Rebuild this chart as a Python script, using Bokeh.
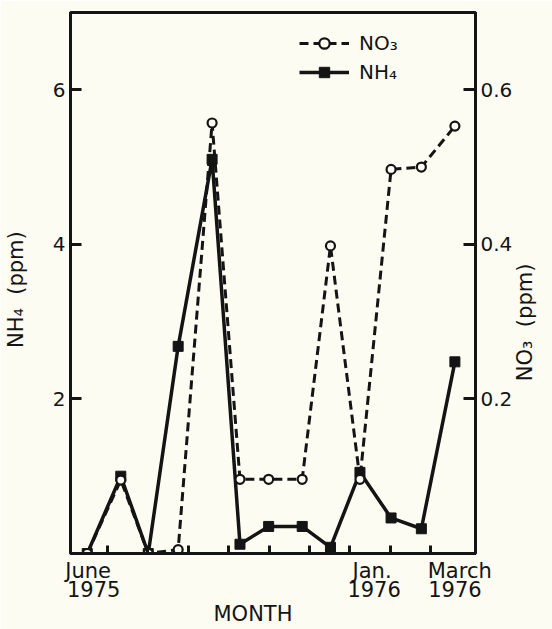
import math
from bokeh.plotting import figure
from bokeh.models import Range1d, LinearAxis, FixedTicker, Legend, LegendItem
from bokeh.embed import file_html
from bokeh.resources import INLINE

# ---- data ----
# sampling dates, in months since 1 June 1975
sample_month = [0.50, 1.33, 2.01, 2.75, 3.59, 4.28, 4.99, 5.82, 6.52, 7.25, 8.02, 8.77, 9.60]
nh4_ppm = [0.0, 1.0, 0.0, 2.68, 5.1, 0.12, 0.35, 0.35, 0.08, 1.05, 0.46, 0.32, 2.48]
no3_ppm = [0.0, 0.095, 0.0, 0.005, 0.557, 0.096, 0.096, 0.096, 0.398, 0.096, 0.497, 0.50, 0.553]

month_label_pos = [0.52, 7.55, 9.72]
month_labels = ["June", "Jan.", "March"]
year_label_pos = [0.66, 7.60, 9.60]
year_labels = ["1975", "1976", "1976"]
month_boundaries = [1, 2, 3, 4, 5, 6, 7, 8, 9]
nh4_ticks = [2, 4, 6]
no3_ticks = [0.2, 0.4, 0.6]
no3_title_start = 0.223   # where the upward-reading NO3 title begins

INK = "#141414"
BG = "#fcfcf2"
FONT = "DejaVu Sans"
NB = "\u00a0"

p = figure(width=552, height=629, x_range=Range1d(0.085, 10.11), y_range=Range1d(0, 7.0),
           output_backend="svg", toolbar_location=None,
           x_axis_location=None, y_axis_location=None,
           min_border_left=68, min_border_right=71, min_border_top=12, min_border_bottom=76)
p.extra_y_ranges = {"no3": Range1d(0, 0.7)}
p.background_fill_color = BG
p.border_fill_color = BG
p.outline_line_color = INK
p.outline_line_width = 3
p.xgrid.visible = False
p.ygrid.visible = False


def style_axis(ax, size="20px"):
    ax.axis_line_color = INK
    ax.axis_line_width = 3
    ax.major_tick_line_color = INK
    ax.major_tick_line_width = 3
    ax.minor_tick_line_color = INK
    ax.minor_tick_line_width = 3
    ax.major_label_text_font = FONT
    ax.major_label_text_font_size = size
    ax.major_label_text_color = INK
    ax.axis_label_text_font = FONT
    ax.axis_label_text_font_size = "21px"
    ax.axis_label_text_font_style = "normal"
    ax.axis_label_text_color = INK


def bare(ax):
    ax.axis_line_color = None
    ax.major_tick_line_color = None
    ax.minor_tick_line_color = None
    ax.major_tick_in = 0
    ax.major_tick_out = 0


# left axis (NH4)
left = LinearAxis(ticker=FixedTicker(ticks=nh4_ticks, minor_ticks=[]),
                  axis_label="NH\u2084" + NB + " (ppm)" + NB * 2)
style_axis(left)
left.major_tick_in = 11
left.major_tick_out = 0
left.major_label_standoff = 5
left.axis_label_standoff = 22
p.add_layout(left, "left")

# right axis (NO3)
right = LinearAxis(y_range_name="no3", ticker=FixedTicker(ticks=no3_ticks, minor_ticks=[]))
style_axis(right)
right.major_tick_in = 12
right.major_tick_out = 0
right.major_label_standoff = 5
p.add_layout(right, "right")

# NO3 title, reading upward like the reference
right_title = LinearAxis(y_range_name="no3",
                         ticker=FixedTicker(ticks=[no3_title_start], minor_ticks=[]),
                         major_label_overrides={no3_title_start: "NO\u2083" + NB + " (ppm)"})
style_axis(right_title, "21px")
bare(right_title)
right_title.major_label_orientation = math.pi / 2
right_title.major_label_standoff = 10
p.add_layout(right_title, "right")

# bottom axis: month boundary ticks + month names
bottom = LinearAxis(ticker=FixedTicker(ticks=month_label_pos, minor_ticks=month_boundaries),
                    major_label_overrides={k: v for k, v in zip(month_label_pos, month_labels)})
style_axis(bottom, "21px")
bottom.major_tick_in = 0
bottom.major_tick_out = 0
bottom.major_tick_line_color = None
bottom.minor_tick_in = 8
bottom.minor_tick_out = 0
bottom.major_label_standoff = 5
p.add_layout(bottom, "below")

# second line of labels: years, and the axis title
years = LinearAxis(ticker=FixedTicker(ticks=year_label_pos, minor_ticks=[]),
                   major_label_overrides={k: v for k, v in zip(year_label_pos, year_labels)},
                   axis_label="MONTH" + NB * 6)
style_axis(years, "21px")
bare(years)
years.major_label_standoff = -5
years.axis_label_standoff = 2
p.add_layout(years, "below")

# NH4 series (solid, filled squares)
nh4_line = p.line(sample_month, nh4_ppm, line_color=INK, line_width=3.5)
nh4_pts = p.scatter(sample_month, nh4_ppm, marker="square", size=10,
                    fill_color=INK, line_color=INK)

# NO3 series (dashed, open circles)
no3_line = p.line(sample_month, no3_ppm, y_range_name="no3", line_color=INK,
                  line_width=3, line_dash="9 5")
no3_pts = p.scatter(sample_month, no3_ppm, y_range_name="no3", marker="circle", size=9,
                    fill_color=BG, line_color=INK, line_width=2.2)

legend = Legend(items=[LegendItem(label="NO\u2083", renderers=[no3_line, no3_pts]),
                       LegendItem(label="NH\u2084", renderers=[nh4_line, nh4_pts])],
                location=(229, 468))
legend.glyph_width = 50
legend.glyph_height = 26
legend.label_standoff = 10
legend.padding = 0
legend.spacing = 3
legend.margin = 0
legend.border_line_color = None
legend.background_fill_alpha = 0
legend.label_text_font = FONT
legend.label_text_font_size = "20px"
legend.label_text_color = INK
p.add_layout(legend)

open("out.html", "w").write(file_html(p, INLINE))
